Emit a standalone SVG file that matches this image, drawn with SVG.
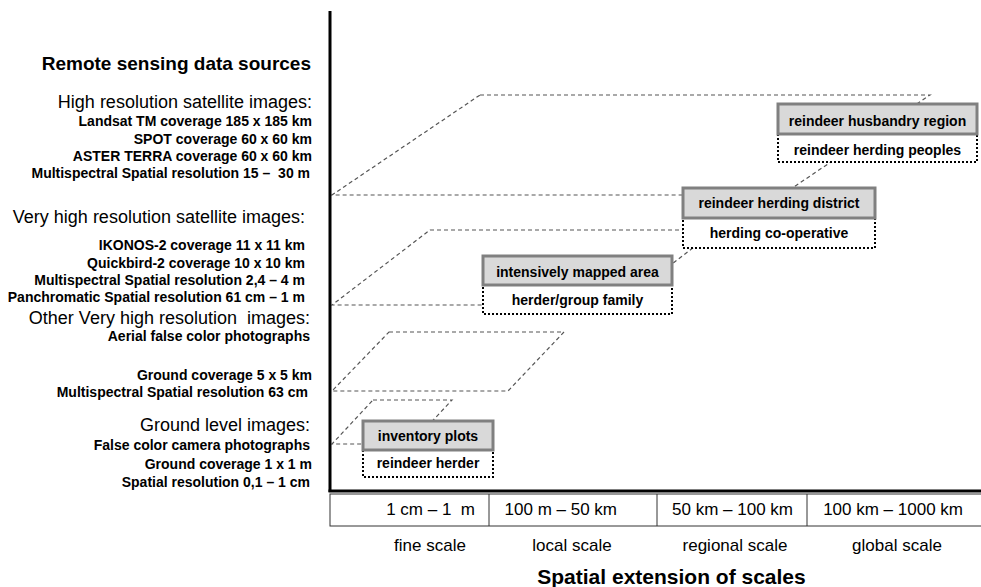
<svg xmlns="http://www.w3.org/2000/svg" width="981" height="587" viewBox="0 0 981 587">
<style>
text{font-family:"Liberation Sans",Arial,sans-serif;fill:#000}
.h{font-size:18px;text-anchor:end}
.b{font-size:14px;font-weight:bold;text-anchor:end}
.t{font-size:19px;font-weight:bold;text-anchor:end}
.bx{font-size:14px;font-weight:bold;text-anchor:middle}
.s{font-size:17px;text-anchor:middle}
.r{font-size:17px;text-anchor:end}
.dash{fill:none;stroke:#555;stroke-width:1.2;stroke-dasharray:4 3}
.gray{fill:#d9d9d9;stroke:#808080;stroke-width:3}
.dot{fill:#fff;stroke:#000;stroke-width:2;stroke-dasharray:2 2}
.axis{stroke:#000;stroke-width:3;fill:none}
.cell{fill:#fff;stroke:#333;stroke-width:1}
</style>
<rect width="981" height="587" fill="#fff"/>
<g id="sources">
<text class="t" x="311" y="70">Remote sensing data sources</text>
<text class="h" x="312" y="108">High resolution satellite images:</text>
<text class="b" x="312" y="126">Landsat TM coverage 185 x 185 km</text>
<text class="b" x="312" y="144">SPOT coverage 60 x 60 km</text>
<text class="b" x="312" y="161">ASTER TERRA coverage 60 x 60 km</text>
<text class="b" x="310" y="178" xml:space="preserve">Multispectral Spatial resolution 15 –  30 m</text>
<text class="h" x="305" y="223">Very high resolution satellite images:</text>
<text class="b" x="305" y="250">IKONOS-2 coverage 11 x 11 km</text>
<text class="b" x="305" y="268">Quickbird-2 coverage 10 x 10 km</text>
<text class="b" x="305" y="285">Multispectral Spatial resolution 2,4 – 4 m</text>
<text class="b" x="305" y="302">Panchromatic Spatial resolution 61 cm – 1 m</text>
<text class="h" x="310" y="324" xml:space="preserve">Other Very high resolution  images:</text>
<text class="b" x="310" y="341">Aerial false color photographs</text>
<text class="b" x="312" y="380">Ground coverage 5 x 5 km</text>
<text class="b" x="308" y="397">Multispectral Spatial resolution 63 cm</text>
<text class="h" x="310" y="431">Ground level images:</text>
<text class="b" x="310" y="450">False color camera photographs</text>
<text class="b" x="312" y="469">Ground coverage 1 x 1 m</text>
<text class="b" x="310" y="487">Spatial resolution 0,1 – 1 cm</text>
</g>
<g id="connectors">
<polygon class="dash" points="480,95 930,95 782,195 332,195"/>
<polygon class="dash" points="430,230 716,230 619,305 332,305"/>
<polygon class="dash" points="389,332 564,332 508,391 332,391"/>
<polygon class="dash" points="373,400 452,400 411,444 332,444"/>
</g>
<g id="axes">
<line class="axis" x1="330" y1="11" x2="330" y2="492"/>
<line class="axis" x1="328.5" y1="491" x2="981" y2="491"/>
</g>
<g id="node-husbandry-region">
<rect class="dot" x="778" y="134" width="199" height="28"/>
<rect class="gray" x="778" y="104" width="199" height="30"/>
<text class="bx" x="877.5" y="126">reindeer husbandry region</text>
<text class="bx" x="877.5" y="155">reindeer herding peoples</text>
</g>
<g id="node-herding-district">
<rect class="dot" x="683" y="218" width="192" height="30"/>
<rect class="gray" x="683" y="188" width="192" height="30"/>
<text class="bx" x="779" y="208">reindeer herding district</text>
<text class="bx" x="779" y="238">herding co-operative</text>
</g>
<g id="node-mapped-area">
<rect class="dot" x="483" y="285" width="189" height="29"/>
<rect class="gray" x="483" y="256" width="189" height="29"/>
<text class="bx" x="577.5" y="277">intensively mapped area</text>
<text class="bx" x="577.5" y="305">herder/group family</text>
</g>
<g id="node-inventory-plots">
<rect class="dot" x="363" y="450" width="130" height="27"/>
<rect class="gray" x="363" y="421" width="130" height="29"/>
<text class="bx" x="428" y="441">inventory plots</text>
<text class="bx" x="428" y="468">reindeer herder</text>
</g>
<g id="scale-table">
<rect class="cell" x="330" y="494" width="660" height="32"/>
<line class="cell" x1="489" y1="494" x2="489" y2="526"/>
<line class="cell" x1="657" y1="494" x2="657" y2="526"/>
<line class="cell" x1="807" y1="494" x2="807" y2="526"/>
<text class="r" x="475" y="515" xml:space="preserve">1 cm – 1  m</text>
<text class="r" x="617" y="515">100 m – 50 km</text>
<text class="r" x="793" y="515">50 km – 100 km</text>
<text class="r" x="963" y="515">100 km – 1000 km</text>
<text class="s" x="430" y="551">fine scale</text>
<text class="s" x="572" y="551">local scale</text>
<text class="s" x="735" y="551">regional scale</text>
<text class="s" x="897" y="551">global scale</text>
<text x="671.5" y="584" style="font-size:21px;font-weight:bold;text-anchor:middle">Spatial extension of scales</text>
</g>
</svg>
